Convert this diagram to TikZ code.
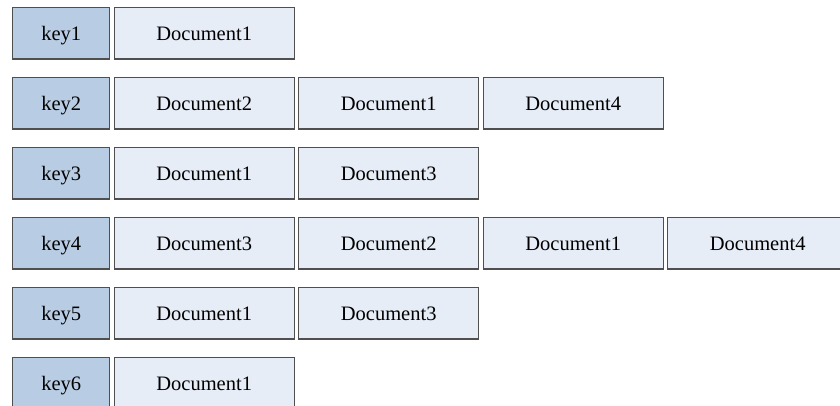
\documentclass[tikz,border=0pt]{standalone}
\usepackage{fontspec}
\setmainfont{Liberation Serif}
\definecolor{keyfill}{HTML}{B8CCE4}
\definecolor{docfill}{HTML}{E6EDF7}
\definecolor{edge}{HTML}{4F4F4F}
\begin{document}
\begin{tikzpicture}[x=1pt,y=-1pt,
  cell/.style={draw=edge, line width=1.3pt, inner sep=0pt, minimum height=51.5pt,
    text height=14pt, text depth=0pt,
    font=\fontsize{20.5}{24}\selectfont, text=black},
  keycell/.style={cell, fill=keyfill, minimum width=97pt},
  doccell/.style={cell, fill=docfill, minimum width=180pt}]
\useasboundingbox (0,0) rectangle (840,406);
% row 1
\node[keycell] (k1) at (61.2,33.3) {key1};
\node[doccell] (d11) at (204.2,33.3) {Document1};
% row 2
\node[keycell] (k2) at (61.2,103.3) {key2};
\node[doccell] (d21) at (204.2,103.3) {Document2};
\node[doccell] (d22) at (388.7,103.3) {Document1};
\node[doccell] (d23) at (573.2,103.3) {Document4};
% row 3
\node[keycell] (k3) at (61.2,173.3) {key3};
\node[doccell] (d31) at (204.2,173.3) {Document1};
\node[doccell] (d32) at (388.7,173.3) {Document3};
% row 4
\node[keycell] (k4) at (61.2,243.3) {key4};
\node[doccell] (d41) at (204.2,243.3) {Document3};
\node[doccell] (d42) at (388.7,243.3) {Document2};
\node[doccell] (d43) at (573.2,243.3) {Document1};
\node[doccell] (d44) at (757.7,243.3) {Document4};
% row 5
\node[keycell] (k5) at (61.2,313.3) {key5};
\node[doccell] (d51) at (204.2,313.3) {Document1};
\node[doccell] (d52) at (388.7,313.3) {Document3};
% row 6
\node[keycell] (k6) at (61.2,383.3) {key6};
\node[doccell] (d61) at (204.2,383.3) {Document1};
\end{tikzpicture}
\end{document}
